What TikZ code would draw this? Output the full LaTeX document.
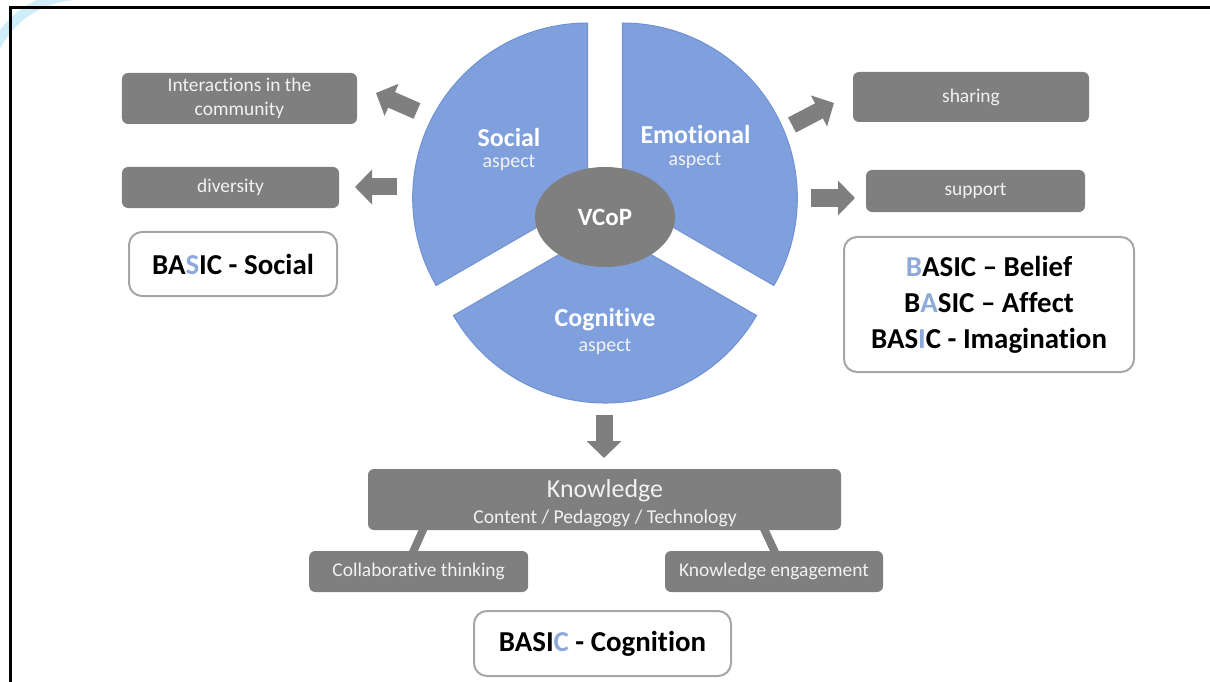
\documentclass[tikz,border=0pt]{standalone}
\usepackage{fontspec}
\setmainfont{Carlito}[Ligatures={TeX,NoCommon}]
\usetikzlibrary{arrows.meta,shapes.geometric,calc}

\definecolor{segblue}{RGB}{127,160,220}
\definecolor{segedge}{RGB}{112,146,210}
\definecolor{boxgray}{RGB}{127,127,127}
\definecolor{boxtext}{RGB}{242,242,242}
\definecolor{framegray}{RGB}{166,166,166}
\definecolor{letterblue}{RGB}{142,170,219}
\definecolor{wmcyan}{RGB}{208,237,250}
\newcommand\hilite[1]{\textcolor{letterblue}{#1}}

\tikzset{
  graybox/.style={rectangle, rounded corners=6bp, fill=boxgray, text=boxtext,
    inner sep=0pt, align=center, font=\fontsize{19.5}{24}\selectfont},
  basicbox/.style={rectangle, rounded corners=13bp, draw=framegray, line width=2bp,
    fill=white, inner sep=0pt, align=center, text=black,
    font=\fontsize{29}{36}\selectfont\bfseries},
  blockarrow/.style={draw=boxgray, line width=17bp, -{Triangle[width=34bp,length=17bp]}},
  link/.style={draw=boxgray, line width=8bp, shorten <=-4bp, shorten >=-4bp},
  seg/.style={fill=segblue, draw=segedge, line width=1bp},
  segtitle/.style={text=white, inner sep=0pt, anchor=base, font=\fontsize{26}{26}\selectfont\bfseries},
  segsub/.style={text=boxtext, inner sep=0pt, anchor=base, font=\fontsize{20}{20}\selectfont},
  boxline/.style={text=boxtext, inner sep=0pt, anchor=base},
}

\begin{document}
\begin{tikzpicture}[x=1bp,y=-1bp]
\useasboundingbox (0,0) rectangle (1210,682);

% faint arc in the upper left corner
\begin{scope}
  \clip (0,0) rectangle (1210,682);
  \draw[wmcyan, line width=10bp] (80,90) ++(-95:95) arc[start angle=-95,end angle=-165,radius=95];
\end{scope}

% frame
\draw[line width=3bp] (10,682) -- (10,8) -- (1210,8);

% the three exploded sectors
\path[seg] (587.68,198) -- ++(-90:175) arc[start angle=-90,end angle=-210,radius=175] -- cycle;
\path[seg] (622.32,198) -- ++(-90:175) arc[start angle=-90,end angle=30,radius=175] -- cycle;
\path[seg] (605,228) -- ++(-210:175) arc[start angle=-210,end angle=-330,radius=175] -- cycle;

% sector labels
\node[segtitle] (socT) at (509,147) {Social};
\node[segsub]   (socA) at (509,168) {aspect};
\node[segtitle] (emoT) at (695.5,144) {Emotional};
\node[segsub]   (emoA) at (695,166) {aspect};
\node[segtitle] (cogT) at (605,326) {Cognitive};
\node[segsub]   (cogA) at (605,351) {aspect};

% centre
\node[ellipse, fill=boxgray, minimum width=140bp, minimum height=100bp, inner sep=0pt,
      text=white, font=\fontsize{25}{25}\selectfont\bfseries] (vcop) at (605,217) {VCoP};

% outcome boxes
\node[graybox, minimum width=235bp, minimum height=51bp] (inter) at (239.5,98.5) {Interactions in the\\community};
\node[graybox, minimum width=217bp, minimum height=41bp] (div) at (230.5,187.5) {diversity};
\node[graybox, minimum width=236bp, minimum height=50bp] (share) at (971,97) {sharing};
\node[graybox, minimum width=219bp, minimum height=42bp] (supp) at (975.5,191) {support};

\node[graybox, minimum width=473bp, minimum height=61bp] (know) at (604.5,499.5) {};
\node[boxline, font=\fontsize{26}{26}\selectfont] (knowT) at (605,497) {Knowledge};
\node[boxline, font=\fontsize{19.7}{20}\selectfont] (knowS) at (605,523) {Content / Pedagogy / Technology};

\node[graybox, minimum width=219bp, minimum height=41bp] (collab) at (418.7,571.5) {Collaborative thinking};
\node[graybox, minimum width=218bp, minimum height=41bp] (keng) at (774,571.5) {Knowledge engagement};

\draw[link] ($(know.south west)+(55,0)$) -- ($(collab.north west)+(104.6,0)$);
\draw[link] ($(know.south east)+(-76.5,0)$) -- ($(keng.north west)+(109.5,0)$);

% block arrows
\coordinate (tailSI) at (417,111);   \coordinate (tipSI) at (376,93);
\coordinate (tailSD) at (397,187);   \coordinate (tipSD) at (355,187);
\coordinate (tailES) at (792,125);   \coordinate (tipES) at (834,103);
\coordinate (tailEU) at (811,198);   \coordinate (tipEU) at (855,198);
\coordinate (tailCK) at (604,415);   \coordinate (tipCK) at (604,458);
\draw[blockarrow] (tailSI) -- (tipSI);
\draw[blockarrow] (tailSD) -- (tipSD);
\draw[blockarrow] (tailES) -- (tipES);
\draw[blockarrow] (tailEU) -- (tipEU);
\draw[blockarrow] (tailCK) -- (tipCK);

% BASIC boxes
\node[basicbox, minimum width=208bp, minimum height=64bp] (basS) at (233,264) {BA\hilite{S}IC - Social};
\node[basicbox, minimum width=290bp, minimum height=135bp] (basR) at (989,304.5)
  {\hilite{B}ASIC \textendash{} Belief\\B\hilite{A}SIC \textendash{} Affect\\BAS\hilite{I}C - Imagination};
\node[basicbox, minimum width=257bp, minimum height=65bp] (basC) at (602.5,643.5) {BASI\hilite{C} - Cognition};

\end{tikzpicture}
\end{document}
